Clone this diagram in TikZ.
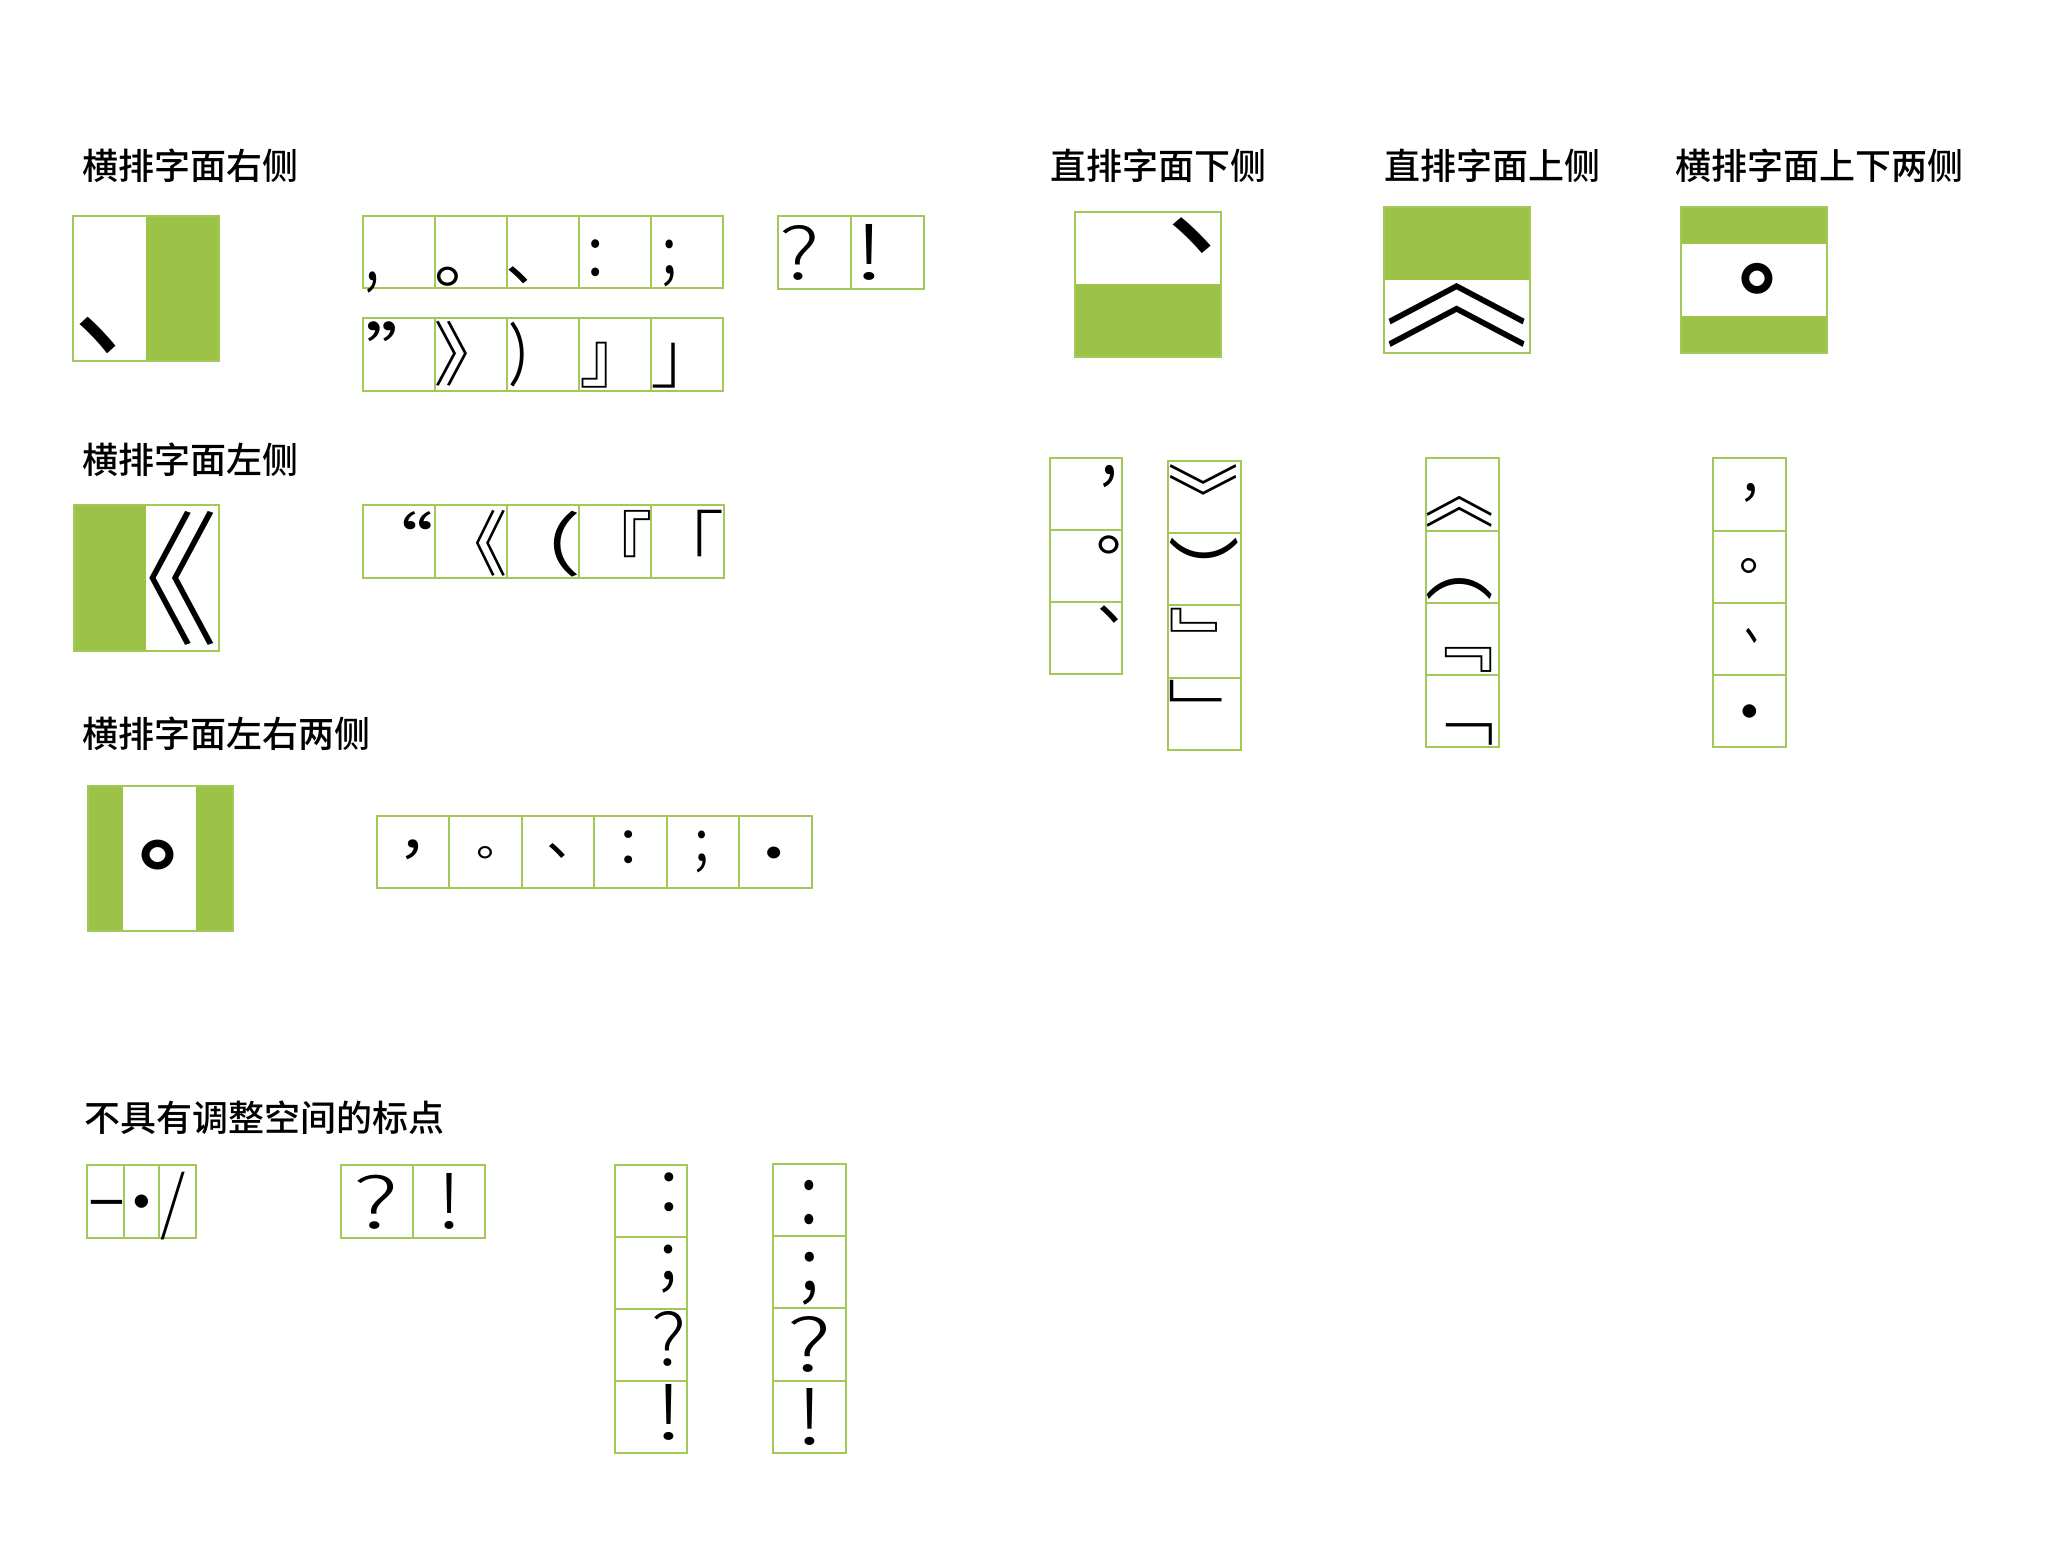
\documentclass[tikz,border=0pt]{standalone}
\usepackage{fontspec}
\usepackage{graphicx}
\newfontfamily\cjk{Noto Sans CJK SC}
\IfFontExistsTF{Noto Sans CJK SC Medium}{\newfontfamily\tfont{Noto Sans CJK SC Medium}}{\newcommand\tfont{\cjk\bfseries}}
\IfFontExistsTF{Noto Sans CJK SC Light}{\newfontfamily\lfont{Noto Sans CJK SC Light}}{%
  \IfFontExistsTF{Noto Sans CJK SC DemiLight}{\newfontfamily\lfont{Noto Sans CJK SC DemiLight}}{\newcommand\lfont{\cjk}}}
\IfFontExistsTF{FiraSans-Light.otf}{\newfontfamily\qfont{FiraSans-Light.otf}}{\newcommand\qfont{\lfont}}
\definecolor{fillgreen}{RGB}{156,194,71}
\definecolor{linegreen}{RGB}{162,201,88}
\newcounter{gl}
% glyph box trimmed exactly to its ink (left, right, top and bottom)
\newcommand\ink[1]{%
  \begingroup
  \edef\gi{\the\XeTeXcharglyph`#1}%
  \setbox0=\hbox{\kern-\XeTeXglyphbounds1 \gi\relax #1\kern-\XeTeXglyphbounds3 \gi\relax}%
  \ht0=\XeTeXglyphbounds2 \gi\relax
  \dp0=\XeTeXglyphbounds4 \gi\relax
  \hbox{\raise\dp0\box0}%
  \endgroup}
% place a glyph so that its ink fills the box (x1,y1)-(x2,y2)
\newcommand\G[6][\cjk]{%
  \stepcounter{gl}%
  \pgfmathsetmacro\gw{#4-#2}\pgfmathsetmacro\gh{#5-#3}%
  \node[glyph, font={#1\fontsize{100}{100}\selectfont}] (g\arabic{gl}) at ({(#2+#4)/2},{(#3+#5)/2}) {\resizebox*{\gw pt}{\gh pt}{\ink{#6}}};}
\newcommand\hrow[5]{\foreach \i in {1,...,#5}{\draw[cell] ({#1+(\i-1)*#3},#2) rectangle ++(#3,#4);}}
\newcommand\vcol[5]{\foreach \i in {1,...,#5}{\draw[cell] (#1,{#2+(\i-1)*#4}) rectangle ++(#3,#4);}}
\tikzset{
  cell/.style={draw=linegreen, line width=2pt},
  band/.style={fill=fillgreen},
  glyph/.style={inner sep=0pt, outer sep=0pt},
  title/.style={inner sep=0pt, anchor=west, font={\tfont\fontsize{36}{40}\selectfont}}
}
\begin{document}
\begin{tikzpicture}[x=1pt,y=-1pt]
\useasboundingbox (0,0) rectangle (2070,1554);
% titles
\node[title] (t1) at (82,166) {横排字面右侧};
\node[title] (t2) at (82,460) {横排字面左侧};
\node[title] (t3) at (82,734) {横排字面左右两侧};
\node[title] (t4) at (84,1118) {不具有调整空间的标点};
\node[title] (t5) at (1050,166) {直排字面下侧};
\node[title] (t6) at (1384,166) {直排字面上侧};
\node[title] (t7) at (1675,166) {横排字面上下两侧};
% big demo boxes
\fill[band] (146,216) rectangle (219,361);
\draw[cell] (73,216) rectangle (219,361);
\fill[band] (73.5,505) rectangle (146,651);
\draw[cell] (73.5,505) rectangle (219,651);
\fill[band] (87.5,786) rectangle (123.3,931);
\fill[band] (196,786) rectangle (233,931);
\draw[cell] (87.5,786) rectangle (233,931);
\fill[band] (1075,284) rectangle (1221,357);
\draw[cell] (1075,212) rectangle (1221,357);
\fill[band] (1383.5,207) rectangle (1530,280.3);
\draw[cell] (1383.5,207) rectangle (1530,353);
\fill[band] (1681,207) rectangle (1827,244.3);
\fill[band] (1681,316) rectangle (1827,353);
\draw[cell] (1681,207) rectangle (1827,353);
% cell grids
\hrow{363}{216}{72.06}{72.3}{5}
\hrow{778}{216}{73}{72.7}{2}
\hrow{363}{318.3}{72.06}{72.7}{5}
\hrow{363}{505}{72.1}{73}{5}
\hrow{377}{815.7}{72.42}{72.6}{6}
\vcol{1050}{458.3}{72.3}{72}{3}
\vcol{1168.3}{461}{72.4}{72.2}{4}
\vcol{1426}{458.3}{72.7}{72.2}{4}
\vcol{1713.3}{458.3}{72.7}{72.2}{4}
\draw[cell] (87.3,1165.3) rectangle (124,1237.7);
\draw[cell] (124,1165.3) rectangle (159.3,1237.7);
\draw[cell] (159.3,1165.3) rectangle (196,1237.7);
\hrow{340.7}{1165.3}{72.15}{72.4}{2}
\vcol{615}{1165.3}{72.3}{71.85}{4}
\vcol{773.3}{1164}{72.4}{72.2}{4}
% big demo glyphs
\G{80}{317.3}{116}{354}{、}
\G[\lfont]{150}{511}{214}{645}{《}
\G[\cjk\bfseries]{142}{840}{174}{870}{。}
\G{1173}{218}{1211}{254}{︑}
\G[\lfont]{1389}{283}{1525}{347}{︽}
\G[\cjk\bfseries]{1742}{263}{1773}{294}{。}
% row 1
\G{368}{271.7}{377}{293}{，}
\G{437}{266.7}{458}{286}{。}
\G{509}{266.7}{528}{284}{、}
\G{592}{240}{600}{277}{：}
\G{664.5}{240}{674}{287}{；}
\G[\qfont]{782.7}{225}{814.7}{280}{?}
\G[\qfont]{864}{224}{875}{280}{!}
% row 2
\G{368}{321.7}{395}{341.7}{”}
\G[\lfont]{437}{321.7}{468}{386.7}{》}
\G{510.7}{321.7}{524}{386.7}{）}
\G[\lfont]{581.7}{341.7}{606.7}{387.7}{』}
\G[\lfont]{653}{342.7}{675}{387.7}{」}
% row 3
\G{404}{511.7}{431}{530}{“}
\G[\lfont]{476}{510.7}{505}{576.7}{《}
\G{554.6}{510.7}{578}{576.7}{（}
\G[\lfont]{624}{510.7}{650}{558}{『}
\G[\lfont]{698}{510.7}{722}{557.3}{「}
% row 4
\G{406}{840}{418.5}{860}{，}
\G{478}{846.7}{492}{859.3}{。}
\G{549.5}{843}{565.5}{858}{、}
\G{625}{831}{633}{864}{：}
\G{697}{831}{706}{873}{；}
\G{768}{847}{781}{859}{・}
% vertical column 1
\G{1103}{465}{1114}{487.3}{︐}
\G{1099}{536}{1119}{554.3}{︒}
\G{1100}{605.7}{1118}{623.3}{︑}
% vertical column 2
\G[\lfont]{1170.7}{464.3}{1237.3}{495}{︾}
\G{1170}{537.7}{1238}{558.3}{︶}
\G[\lfont]{1171}{608.3}{1217.3}{632.3}{﹄}
\G[\lfont]{1170}{680.7}{1221.7}{702.3}{﹂}
% vertical column 3
\G[\lfont]{1427}{496.7}{1492}{527.7}{︽}
\G{1427}{578}{1492}{599}{︵}
\G[\lfont]{1445.7}{647.3}{1492}{672.3}{﹃}
\G[\lfont]{1446}{723.3}{1492}{745}{﹁}
% vertical column 4
\G{1745}{483.3}{1755}{502.3}{，}
\G{1741.7}{558.3}{1756.7}{573.3}{。}
\G{1746}{628}{1756.7}{643.3}{、}
\G{1743}{704.3}{1756.7}{717.7}{・}
% no adjustable space
\G{91}{1200}{122.3}{1204}{—}
\G{135.7}{1195}{149}{1208.3}{・}
\G[\qfont]{161}{1172.3}{185}{1240}{/}
\G[\qfont]{358}{1175}{394}{1229.3}{?}
\G[\qfont]{445}{1173.3}{454}{1229.3}{!}
\G{664.5}{1172.5}{673.5}{1211.5}{：}
\G{663}{1245}{674}{1293.3}{；}
\G[\qfont]{655}{1311.7}{682.7}{1366.7}{?}
\G[\qfont]{664}{1384}{674}{1440}{!}
\G{805}{1180.5}{814}{1225}{：}
\G{803}{1252}{815}{1305}{；}
\G[\qfont]{791.7}{1316.7}{826.7}{1372.7}{?}
\G[\qfont]{805}{1388}{815}{1445}{!}
\end{tikzpicture}
\end{document}
